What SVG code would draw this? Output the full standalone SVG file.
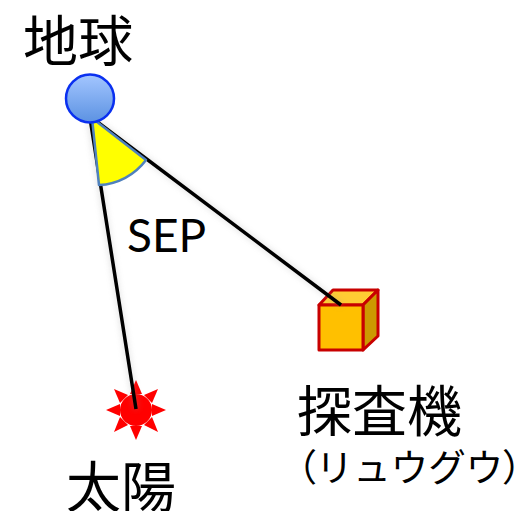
<svg xmlns="http://www.w3.org/2000/svg" width="522" height="511" viewBox="0 0 522 511">
<defs><linearGradient id="b" x1="0" y1="0" x2="0" y2="1"><stop offset="0" stop-color="#a3c6ff"/><stop offset="1" stop-color="#5c92e2"/></linearGradient><filter id="s" x="-20%" y="-20%" width="140%" height="140%"><feGaussianBlur stdDeviation="3"/></filter></defs>
<style>text{font-family:"Liberation Sans","Noto Sans CJK JP",sans-serif;fill:#000}.l{font-size:55px}.e{stroke:#c80000;stroke-width:3;stroke-linejoin:round}.c{stroke:#000;stroke-width:3.5;fill:none}.p{font-feature-settings:"palt"}</style>
<rect width="522" height="511" fill="#fff"/>
<g id="sun"><circle cx="136" cy="410" r="16" fill="#ff0000"/><g fill="#ff0000"><polygon points="136,380 142,394 130,394"/><polygon points="136,440 142,426 130,426"/><polygon points="106,410 120,404 120,416"/><polygon points="166,410 152,404 152,416"/><polygon points="114,389 128,395 120,403"/><polygon points="158,389 144,395 152,403"/><polygon points="114,432 120,417 128,425"/><polygon points="158,432 152,417 144,425"/></g><text class="l" x="66" y="507">太陽</text></g>
<g id="probe"><path class="e" d="M319 305L333 290H378L363 305Z" fill="#ffcd33"/><path class="e" d="M363 305L378 290V336L363 350Z" fill="#cc9a00"/><rect class="e" x="319" y="305" width="44" height="45" fill="#ffc000"/><text class="l" x="297" y="431">探査機</text><text x="297" y="481" font-size="37.500"><tspan class="p">（</tspan>リュウグウ<tspan class="p">）</tspan></text></g>
<g id="connectors"><path d="M90 122L136 409M92 118L341 305" stroke="#999" stroke-width="4" fill="none" opacity=".35" filter="url(#s)"/><path class="c" d="M90 118L136 409M92 118L341 305"/></g>
<g id="sector"><path d="M92 118L146 160A62 62 0 0 1 99 185Z" fill="#ffff00" stroke="#4f81bd" stroke-width="2.5" stroke-linejoin="round"/></g>
<g id="earth"><circle cx="90" cy="98.500" r="24" fill="url(#b)" stroke="#0a30f0" stroke-width="2.500"/><text class="l" x="23" y="61">地球</text></g>
<g id="sep"><text x="127" y="252" font-size="46" style="font-family:Lato,sans-serif">SEP</text></g>
</svg>
